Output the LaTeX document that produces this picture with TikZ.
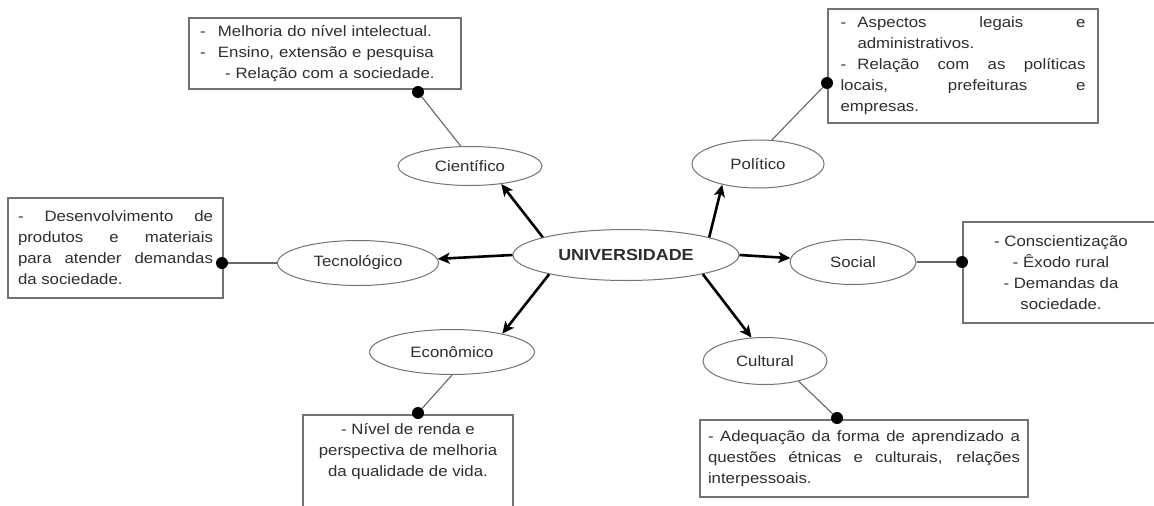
\documentclass[tikz,border=0pt]{standalone}
\usepackage{fontspec}
\setmainfont{Liberation Sans}[FakeStretch=1.12]
\usetikzlibrary{arrows.meta,shapes.geometric}
\hyphenpenalty=10000
\exhyphenpenalty=10000
\tolerance=10000
\emergencystretch=20pt
\tikzset{
  every node/.style={font=\fontsize{15pt}{21pt}\selectfont, text=black!82},
  oval/.style={ellipse, draw=black!55, line width=1pt, inner sep=0pt},
  infobox/.style={rectangle, draw=black!55, line width=1.4pt, inner sep=0pt},
  dot/.style={circle, fill=black, inner sep=0pt, minimum size=12pt},
  link/.style={draw=black!60, line width=1.1pt},
  arr/.style={draw=black, line width=2.6pt, -{Stealth[length=12pt,width=11pt,inset=3pt]}}
}
\begin{document}
\begin{tikzpicture}[x=1pt,y=-1pt]
\useasboundingbox (0,0) rectangle (1154,506);
\fill[white] (0,0) rectangle (1154,506);
\clip (0,0) rectangle (1154,506);

% ellipses
\node[oval, minimum width=226pt, minimum height=51pt, font=\fontsize{16pt}{19pt}\selectfont\bfseries] (U) at (626,255) {UNIVERSIDADE};
\node[oval, minimum width=144pt, minimum height=39pt] (Ci) at (470,166) {Científico};
\node[oval, minimum width=132pt, minimum height=48pt] (P) at (758,164) {Político};
\node[oval, minimum width=161pt, minimum height=45pt] (T) at (358,263) {Tecnológico};
\node[oval, minimum width=126pt, minimum height=45pt] (S) at (853,262) {Social};
\node[oval, minimum width=165pt, minimum height=45pt] (E) at (452,352) {Econômico};
\node[oval, minimum width=124pt, minimum height=47pt] (Cu) at (765,361) {Cultural};

% boxes
\node[infobox, minimum width=272pt, minimum height=71pt, text width=250pt, align=left] (bCi) at (325,53.5)
 {\makebox[18pt][l]{-}Melhoria do nível intelectual.\\
  \makebox[18pt][l]{-}Ensino, extensão e pesquisa\\
  \hspace*{25pt}- Relação com a sociedade.};
\node[infobox, minimum width=270pt, minimum height=114pt, text width=245pt, align=justify] (bP) at (963,66)
 {\hangindent=17pt\hangafter=1\noindent\makebox[17pt][l]{-}Aspectos legais e\linebreak administrativos.\par
  \hangindent=17pt\hangafter=1\noindent\makebox[17pt][l]{-}Relação com as políticas\linebreak locais, prefeituras e\linebreak empresas.};
\node[infobox, minimum width=215pt, minimum height=100pt, text width=195pt, align=justify] (bT) at (115.5,248)
 {- Desenvolvimento de\linebreak produtos e materiais\linebreak para atender demandas\linebreak da sociedade.};
\node[infobox, minimum width=196pt, minimum height=101pt, align=center] (bS) at (1061,272.5)
 {- Conscientização\\- Êxodo rural\\- Demandas da\\sociedade.};
\node[infobox, minimum width=210pt, minimum height=105pt] (bE) at (408,467.5) {};
\node[anchor=north, inner sep=0pt, align=center] (tE) at (408,423)
 {- Nível de renda e\\perspectiva de melhoria\\da qualidade de vida.};
\node[infobox, minimum width=328pt, minimum height=77pt, text width=312pt, align=justify] (bCu) at (864,458.5)
 {- Adequação da forma de aprendizado a\linebreak questões étnicas e culturais, relações\linebreak interpessoais.};

% dots
\node[dot] (dCi) at (418,92) {};
\node[dot] (dP) at (827,83) {};
\node[dot] (dT) at (222,263) {};
\node[dot] (dS) at (962,262) {};
\node[dot] (dE) at (418,413) {};
\node[dot] (dCu) at (837,418) {};

% connectors
\draw[link] (Ci.115) -- (dCi);
\draw[link] (P.60) -- (dP);
\draw[link] (T) -- (dT);
\draw[link] (S) -- (dS);
\draw[link] (E.south) -- (dE);
\draw[link] (Cu.-31) -- (dCu);

% arrows
\draw[arr] (U.168) -- (Ci.-30);
\draw[arr] (U.12) -- (P.-150);
\draw[arr] (U.west) -- (T);
\draw[arr] (U.east) -- (S);
\draw[arr] (U.194) -- (E.20);
\draw[arr] (U.-14) -- (Cu.120);
\end{tikzpicture}
\end{document}
